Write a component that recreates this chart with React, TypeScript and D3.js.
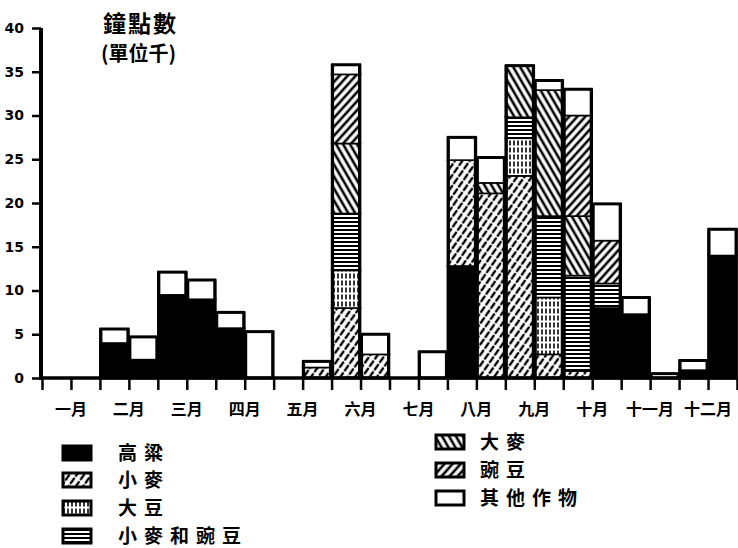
import React, { useEffect, useRef } from "react";
import * as d3 from "d3";

// 24 half-month periods, two per month
const months = ["一月", "二月", "三月", "四月", "五月", "六月", "七月", "八月", "九月", "十月", "十一月", "十二月"];
const periods = d3.range(24);

const sorghum = [0, 0, 4.0, 2.1, 9.5, 9.0, 5.7, 0, 0, 0, 0, 0, 0, 0, 12.8, 0, 0, 0, 0, 8.0, 7.3, 0, 0.9, 14.0];
const wheat = [0, 0, 0, 0, 0, 0, 0, 0, 0, 1.2, 8.0, 2.7, 0, 0, 12.1, 21.1, 23.1, 2.7, 0.8, 0, 0, 0, 0, 0];
const soybean = [0, 0, 0, 0, 0, 0, 0, 0, 0, 0, 4.3, 0, 0, 0, 0, 0, 4.3, 6.5, 0, 0, 0, 0, 0, 0];
const wheatPea = [0, 0, 0, 0, 0, 0, 0, 0, 0, 0, 6.5, 0, 0, 0, 0, 0, 2.4, 9.3, 10.9, 2.8, 0, 0, 0, 0];
const barley = [0, 0, 0, 0, 0, 0, 0, 0, 0, 0, 8.0, 0, 0, 0, 0, 1.2, 5.9, 14.4, 6.8, 0, 0, 0, 0, 0];
const pea = [0, 0, 0, 0, 0, 0, 0, 0, 0, 0, 7.9, 0, 0, 0, 0, 0, 0, 0, 11.5, 4.9, 0, 0, 0, 0];
const other = [0, 0, 1.6, 2.6, 2.6, 2.2, 1.8, 5.3, 0, 0.7, 1.1, 2.3, 0, 3.0, 2.6, 2.9, 0, 1.1, 3.0, 4.2, 1.9, 0.5, 1.1, 3.0];

const seriesKeys = ["sorghum", "wheat", "soybean", "wheatPea", "barley", "pea", "other"];
const seriesNames = ["高粱", "小麥", "大豆", "小麥和豌豆", "大麥", "豌豆", "其他作物"];
const seriesValues = [sorghum, wheat, soybean, wheatPea, barley, pea, other];
const yTicks = [0, 5, 10, 15, 20, 25, 30, 35, 40];

const font = "'Noto Sans CJK TC', 'Noto Sans CJK SC', sans-serif";

function Chart() {
  const ref = useRef<SVGSVGElement>(null);

  useEffect(() => {
    const svg = d3.select(ref.current);
    svg.selectAll("*").remove();

    const x = d3.scaleBand<number>().domain(periods).range([42, 737]).padding(0);
    const xm = d3.scaleBand<string>().domain(months).range([42, 737]).padding(0);
    const y = d3.scaleLinear().domain([0, 40]).range([378, 28]);

    const rows = periods.map((i) => {
      const r: any = { i };
      seriesKeys.forEach((k, j) => (r[k] = seriesValues[j][i]));
      return r;
    });
    const stacked = d3.stack().keys(seriesKeys)(rows);

    // fill patterns
    const defs = svg.append("defs");
    const hatch = (id: string, w: number, h: number, rot: number, draw: (p: any) => void) => {
      const p = defs.append("pattern")
        .attr("id", id)
        .attr("patternUnits", "userSpaceOnUse")
        .attr("width", w)
        .attr("height", h)
        .attr("patternTransform", `rotate(${rot})`);
      p.append("rect").attr("width", w).attr("height", h).attr("fill", "#fff");
      draw(p);
    };
    hatch("p-wheat", 6, 9, 35, (p) =>
      p.append("line").attr("x1", 3).attr("x2", 3).attr("y1", 1).attr("y2", 6.5)
        .attr("stroke", "#000").attr("stroke-width", 2.4).attr("stroke-linecap", "round"));
    hatch("p-soy", 4, 7, 0, (p) =>
      p.append("line").attr("x1", 2).attr("x2", 2).attr("y1", 0.5).attr("y2", 5.5)
        .attr("stroke", "#000").attr("stroke-width", 1.6));
    hatch("p-wp", 6, 4, 0, (p) =>
      p.append("line").attr("x1", 0).attr("x2", 6).attr("y1", 2).attr("y2", 2)
        .attr("stroke", "#000").attr("stroke-width", 2));
    hatch("p-barley", 6, 6, -30, (p) =>
      p.append("line").attr("x1", 3).attr("x2", 3).attr("y1", 0).attr("y2", 6)
        .attr("stroke", "#000").attr("stroke-width", 2.6));
    hatch("p-pea", 6, 6, 42, (p) =>
      p.append("line").attr("x1", 3).attr("x2", 3).attr("y1", 0).attr("y2", 6)
        .attr("stroke", "#000").attr("stroke-width", 2.6));

    const fills: Record<string, string> = {
      sorghum: "#000",
      wheat: "url(#p-wheat)",
      soybean: "url(#p-soy)",
      wheatPea: "url(#p-wp)",
      barley: "url(#p-barley)",
      pea: "url(#p-pea)",
      other: "#fff",
    };

    // bar segments
    const g = svg.append("g");
    stacked.forEach((layer) => {
      g.append("g")
        .selectAll("rect")
        .data(layer.filter((d) => d[1] - d[0] > 0))
        .join("rect")
        .attr("x", (d: any) => x(d.data.i)!)
        .attr("width", x.bandwidth())
        .attr("y", (d) => y(d[1]))
        .attr("height", (d) => y(d[0]) - y(d[1]))
        .attr("fill", fills[layer.key])
        .attr("stroke", "#000")
        .attr("stroke-width", 1.6);
    });

    // outer outline per bar
    const totals = periods.map((i) => d3.sum(seriesValues, (s) => s[i]));
    g.append("g")
      .selectAll("rect")
      .data(periods.filter((i) => totals[i] > 0))
      .join("rect")
      .attr("x", (i) => x(i)! + 1)
      .attr("width", x.bandwidth() - 2)
      .attr("y", (i) => y(totals[i]))
      .attr("height", (i) => y(0) - y(totals[i]))
      .attr("fill", "none")
      .attr("stroke", "#000")
      .attr("stroke-width", 3);

    // y axis
    const yAxis = svg.append("g")
      .attr("transform", "translate(41,0)")
      .call(d3.axisLeft(y).tickValues(yTicks).tickSize(9).tickPadding(3));
    yAxis.select(".domain").attr("stroke-width", 4).attr("d", `M0,${y(40)}V${y(0) + 2}`);
    yAxis.selectAll(".tick line").attr("stroke-width", 2.5);
    yAxis.selectAll(".tick text")
      .attr("font-family", "'DejaVu Sans', sans-serif")
      .attr("font-weight", "bold")
      .attr("font-size", 14)
      .attr("fill", "#000")
      .attr("dx", -5);

    // x axis
    const xAxis = svg.append("g")
      .attr("transform", `translate(0,${y(0)})`)
      .call(d3.axisBottom(d3.scaleLinear().domain([0, 24]).range([42, 737]))
        .tickValues(d3.range(25)).tickSize(12).tickFormat(() => ""));
    xAxis.select(".domain").attr("stroke-width", 3.5).attr("d", "M40,0H737");
    xAxis.selectAll(".tick line").attr("stroke-width", 2.5);

    svg.append("g")
      .selectAll("text")
      .data(months)
      .join("text")
      .attr("x", (m) => xm(m)! + xm.bandwidth() / 2)
      .attr("y", 415)
      .attr("text-anchor", "middle")
      .attr("font-family", font)
      .attr("font-weight", "bold")
      .attr("font-size", 16)
      .text((m) => m);

    // title
    svg.append("text").attr("x", 103).attr("y", 32)
      .attr("font-family", font).attr("font-weight", "bold").attr("font-size", 23)
      .attr("letter-spacing", 2).text("鐘點數");
    svg.append("text").attr("x", 101).attr("y", 61)
      .attr("font-family", font).attr("font-weight", "bold").attr("font-size", 20)
      .text("(單位千)");

    // legend
    const legendPos = [
      [62, 453], [62, 480], [62, 508], [62, 536],
      [435, 442], [435, 470], [435, 498],
    ];
    const lg = svg.append("g")
      .selectAll("g")
      .data(seriesKeys)
      .join("g")
      .attr("transform", (_, j) => `translate(${legendPos[j][0]},${legendPos[j][1]})`);
    lg.append("rect")
      .attr("x", 1).attr("y", -7).attr("width", 28).attr("height", 14)
      .attr("fill", (k) => fills[k])
      .attr("stroke", "#000").attr("stroke-width", 3);
    lg.append("text")
      .attr("x", (_, j) => (j < 4 ? 56 : 45))
      .attr("y", 7)
      .attr("font-family", font)
      .attr("font-weight", "bold")
      .attr("font-size", 19)
      .attr("letter-spacing", 7)
      .text((_, j) => seriesNames[j]);
  }, []);

  return <svg ref={ref} width={738} height={548} style={{ position: "absolute", left: 0, top: 0, background: "#fff" }} />;
}

export default function App() {
  return <Chart />;
}
